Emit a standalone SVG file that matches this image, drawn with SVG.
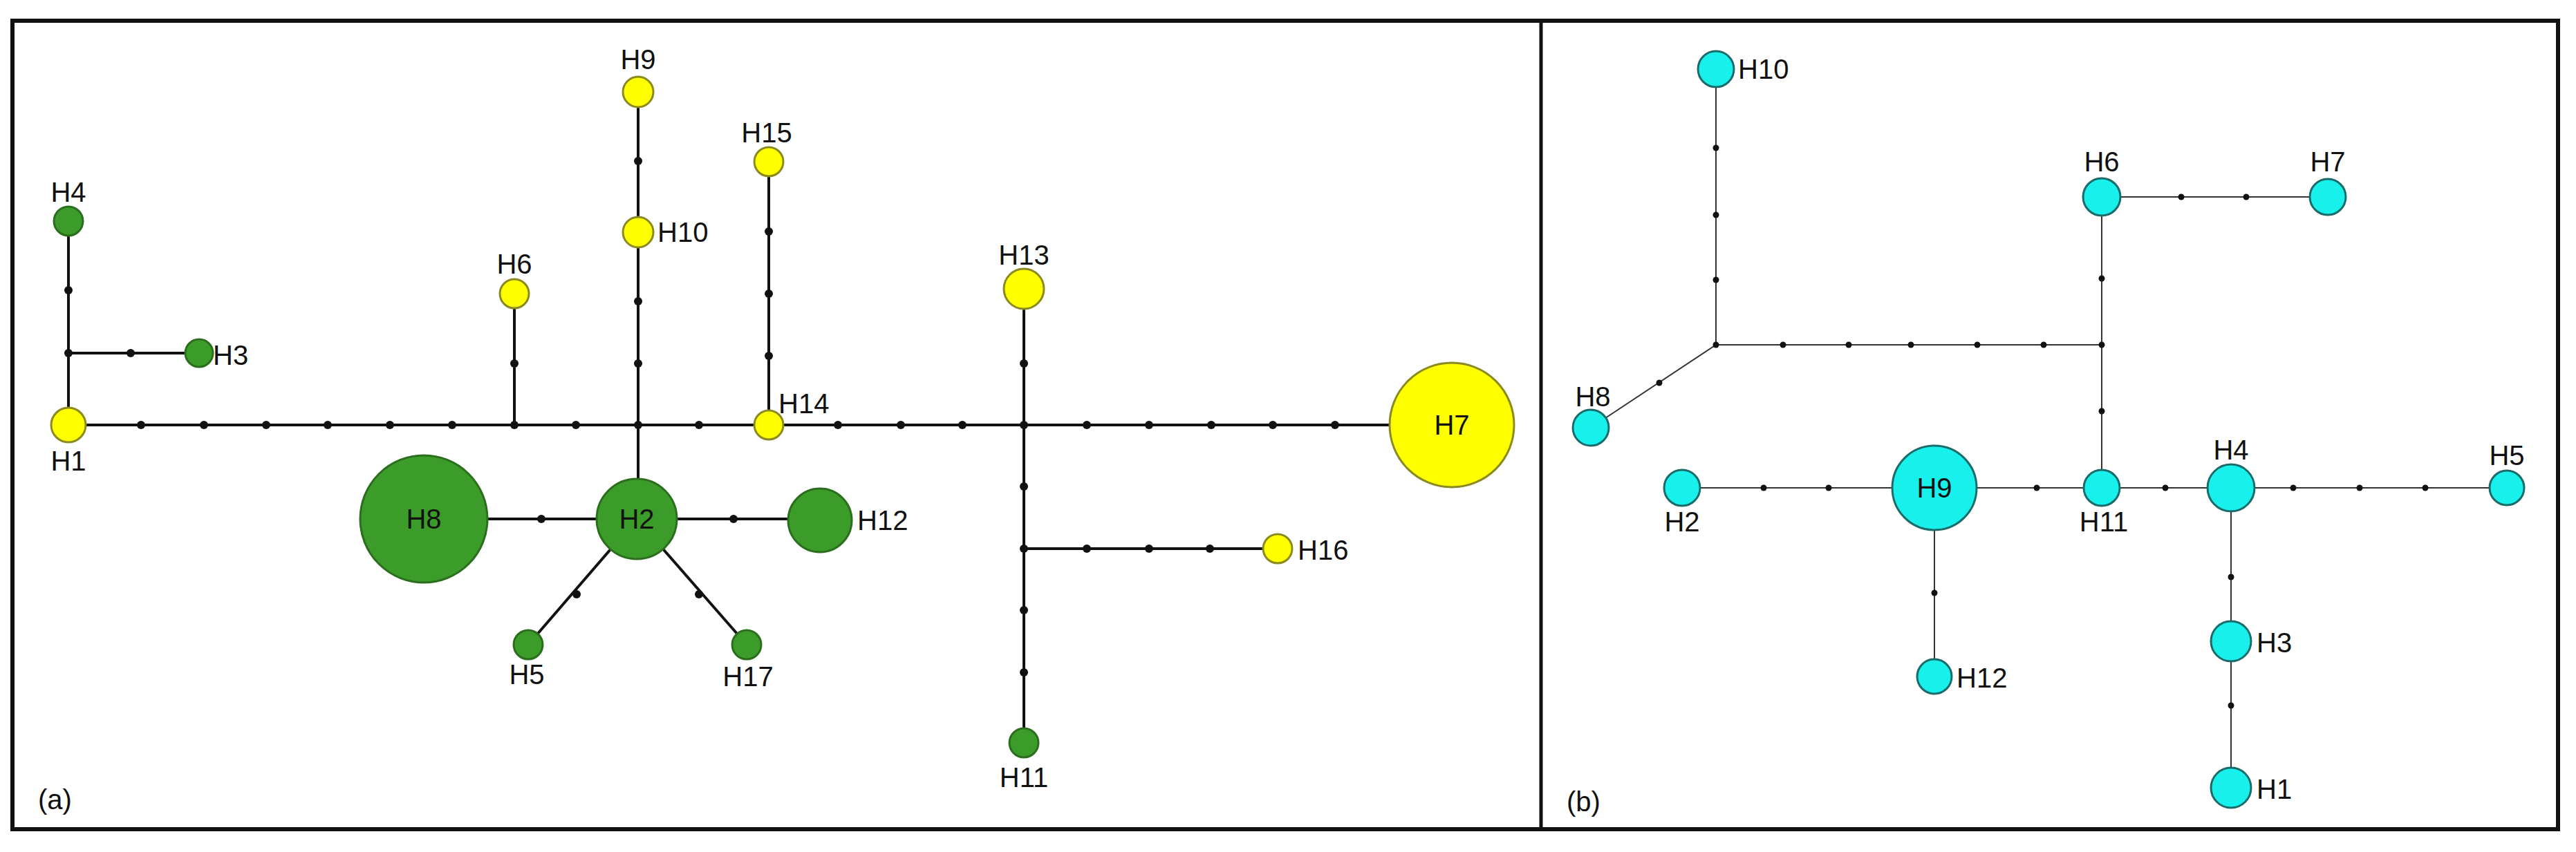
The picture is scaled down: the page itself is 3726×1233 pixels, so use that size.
<svg xmlns="http://www.w3.org/2000/svg" width="3726" height="1233" viewBox="0 0 3726 1233">
<style>
text{font-family:"Liberation Sans",Arial,sans-serif;font-size:40px;fill:#111}
.m{text-anchor:middle;dominant-baseline:central}
.s{dominant-baseline:central}
.g{fill:#3c9c2a;stroke:#2b6e1e;stroke-width:3}
.y{fill:#ffff00;stroke:#8a8a20;stroke-width:3}
.c{fill:#18f0ec;stroke:#1a6c6a;stroke-width:3}
.la line{stroke:#111;stroke-width:4}
.lb line{stroke:#333;stroke-width:2}
.la circle{fill:#111;r:6px}
.lb circle{fill:#111;r:4.5px}
</style>
<rect width="3726" height="1233" fill="#fff"/>
<rect x="18" y="30" width="3682" height="1170" fill="none" stroke="#111" stroke-width="6"/>
<line x1="2229" y1="30" x2="2229" y2="1200" stroke="#111" stroke-width="5"/>
<g id="connectors">
<g class="la">
<line x1="99" y1="615" x2="2100" y2="615"/>
<line x1="99" y1="320" x2="99" y2="615"/>
<line x1="99" y1="511" x2="288" y2="511"/>
<line x1="744" y1="425" x2="744" y2="615"/>
<line x1="923" y1="133" x2="923" y2="751"/>
<line x1="1112" y1="234" x2="1112" y2="615"/>
<line x1="613" y1="751" x2="1186" y2="751"/>
<line x1="921" y1="751" x2="764" y2="933"/>
<line x1="921" y1="751" x2="1080" y2="933"/>
<line x1="1481" y1="418" x2="1481" y2="1075"/>
<line x1="1481" y1="794" x2="1848" y2="794"/>
<circle cx="204" cy="615"/><circle cx="295" cy="615"/><circle cx="385" cy="615"/><circle cx="474" cy="615"/><circle cx="564" cy="615"/><circle cx="654" cy="615"/><circle cx="744" cy="615"/><circle cx="833" cy="615"/><circle cx="923" cy="615"/><circle cx="1011" cy="615"/>
<circle cx="1212" cy="615"/><circle cx="1303" cy="615"/><circle cx="1392" cy="615"/><circle cx="1481" cy="615"/><circle cx="1572" cy="615"/><circle cx="1662" cy="615"/><circle cx="1752" cy="615"/><circle cx="1841" cy="615"/><circle cx="1931" cy="615"/>
<circle cx="99" cy="420"/><circle cx="99" cy="511"/><circle cx="189" cy="511"/>
<circle cx="744" cy="526"/>
<circle cx="923" cy="233"/><circle cx="923" cy="436"/><circle cx="923" cy="526"/>
<circle cx="1112" cy="335"/><circle cx="1112" cy="425"/><circle cx="1112" cy="515"/>
<circle cx="783" cy="751"/><circle cx="1061" cy="751"/><circle cx="834" cy="860"/><circle cx="1011" cy="860"/>
<circle cx="1481" cy="526"/><circle cx="1481" cy="704"/><circle cx="1481" cy="794"/><circle cx="1481" cy="883"/><circle cx="1481" cy="973"/>
<circle cx="1572" cy="794"/><circle cx="1662" cy="794"/><circle cx="1750" cy="794"/>
</g>
<g class="lb">
<line x1="2482" y1="100" x2="2482" y2="499"/>
<line x1="2482" y1="499" x2="3040" y2="499"/>
<line x1="2482" y1="499" x2="2301" y2="619"/>
<line x1="3040" y1="285" x2="3040" y2="706"/>
<line x1="3040" y1="285" x2="3367" y2="285"/>
<line x1="2433" y1="706" x2="3626" y2="706"/>
<line x1="2798" y1="706" x2="2798" y2="979"/>
<line x1="3227" y1="706" x2="3227" y2="1140"/>
<circle cx="2482" cy="214"/><circle cx="2482" cy="311"/><circle cx="2482" cy="405"/><circle cx="2482" cy="499"/>
<circle cx="2579" cy="499"/><circle cx="2674" cy="499"/><circle cx="2764" cy="499"/><circle cx="2860" cy="499"/><circle cx="2956" cy="499"/><circle cx="3040" cy="499"/>
<circle cx="2400" cy="554"/><circle cx="3040" cy="403"/><circle cx="3040" cy="595"/>
<circle cx="3155" cy="285"/><circle cx="3249" cy="285"/>
<circle cx="2551" cy="706"/><circle cx="2645" cy="706"/><circle cx="2946" cy="706"/><circle cx="3132" cy="706"/>
<circle cx="3317" cy="706"/><circle cx="3413" cy="706"/><circle cx="3508" cy="706"/>
<circle cx="3227" cy="835"/><circle cx="3227" cy="1021"/><circle cx="2798" cy="858"/>
</g>
</g>
<g id="a-H1"><circle class="y" cx="99" cy="615" r="25"/><text class="m" x="99" y="667">H1</text></g>
<g id="a-H2"><circle class="g" cx="921" cy="751" r="58"/><text class="m" x="921" y="751">H2</text></g>
<g id="a-H3"><circle class="g" cx="288" cy="511" r="20"/><text class="s" x="308" y="514">H3</text></g>
<g id="a-H4"><circle class="g" cx="99" cy="320" r="21"/><text class="m" x="99" y="278">H4</text></g>
<g id="a-H5"><circle class="g" cx="764" cy="933" r="21"/><text class="m" x="762" y="976">H5</text></g>
<g id="a-H6"><circle class="y" cx="744" cy="425" r="21"/><text class="m" x="744" y="382">H6</text></g>
<g id="a-H7"><circle class="y" cx="2100" cy="615" r="90"/><text class="m" x="2100" y="615">H7</text></g>
<g id="a-H8"><circle class="g" cx="613" cy="751" r="92"/><text class="m" x="613" y="751">H8</text></g>
<g id="a-H9"><circle class="y" cx="923" cy="133" r="22"/><text class="m" x="923" y="86">H9</text></g>
<g id="a-H10"><circle class="y" cx="923" cy="336" r="22"/><text class="s" x="951" y="336">H10</text></g>
<g id="a-H11"><circle class="g" cx="1481" cy="1075" r="21"/><text class="m" x="1481" y="1125">H11</text></g>
<g id="a-H12"><circle class="g" cx="1186" cy="753" r="46"/><text class="s" x="1240" y="753">H12</text></g>
<g id="a-H13"><circle class="y" cx="1481" cy="418" r="29"/><text class="m" x="1481" y="369">H13</text></g>
<g id="a-H14"><circle class="y" cx="1112" cy="615" r="21"/><text class="s" x="1126" y="584">H14</text></g>
<g id="a-H15"><circle class="y" cx="1112" cy="234" r="21"/><text class="m" x="1109" y="192">H15</text></g>
<g id="a-H16"><circle class="y" cx="1848" cy="794" r="21"/><text class="s" x="1877" y="796">H16</text></g>
<g id="a-H17"><circle class="g" cx="1080" cy="933" r="21"/><text class="m" x="1082" y="979">H17</text></g>
<text class="s" x="55" y="1157">(a)</text>
<g id="b-H1"><circle class="c" cx="3227" cy="1140" r="29"/><text class="s" x="3264" y="1142">H1</text></g>
<g id="b-H2"><circle class="c" cx="2433" cy="706" r="26"/><text class="m" x="2433" y="755">H2</text></g>
<g id="b-H3"><circle class="c" cx="3227" cy="928" r="29"/><text class="s" x="3264" y="930">H3</text></g>
<g id="b-H4"><circle class="c" cx="3227" cy="706" r="34"/><text class="m" x="3227" y="651">H4</text></g>
<g id="b-H5"><circle class="c" cx="3626" cy="706" r="25"/><text class="m" x="3626" y="659">H5</text></g>
<g id="b-H6"><circle class="c" cx="3040" cy="285" r="27"/><text class="m" x="3040" y="234">H6</text></g>
<g id="b-H7"><circle class="c" cx="3367" cy="285" r="26"/><text class="m" x="3367" y="234">H7</text></g>
<g id="b-H8"><circle class="c" cx="2301" cy="619" r="26"/><text class="m" x="2304" y="574">H8</text></g>
<g id="b-H9"><circle class="c" cx="2798" cy="706" r="61"/><text class="m" x="2798" y="706">H9</text></g>
<g id="b-H10"><circle class="c" cx="2482" cy="100" r="26"/><text class="s" x="2514" y="100">H10</text></g>
<g id="b-H11"><circle class="c" cx="3040" cy="706" r="26"/><text class="m" x="3043" y="755">H11</text></g>
<g id="b-H12"><circle class="c" cx="2798" cy="979" r="25"/><text class="s" x="2830" y="981">H12</text></g>
<text class="s" x="2266" y="1160">(b)</text>
</svg>
